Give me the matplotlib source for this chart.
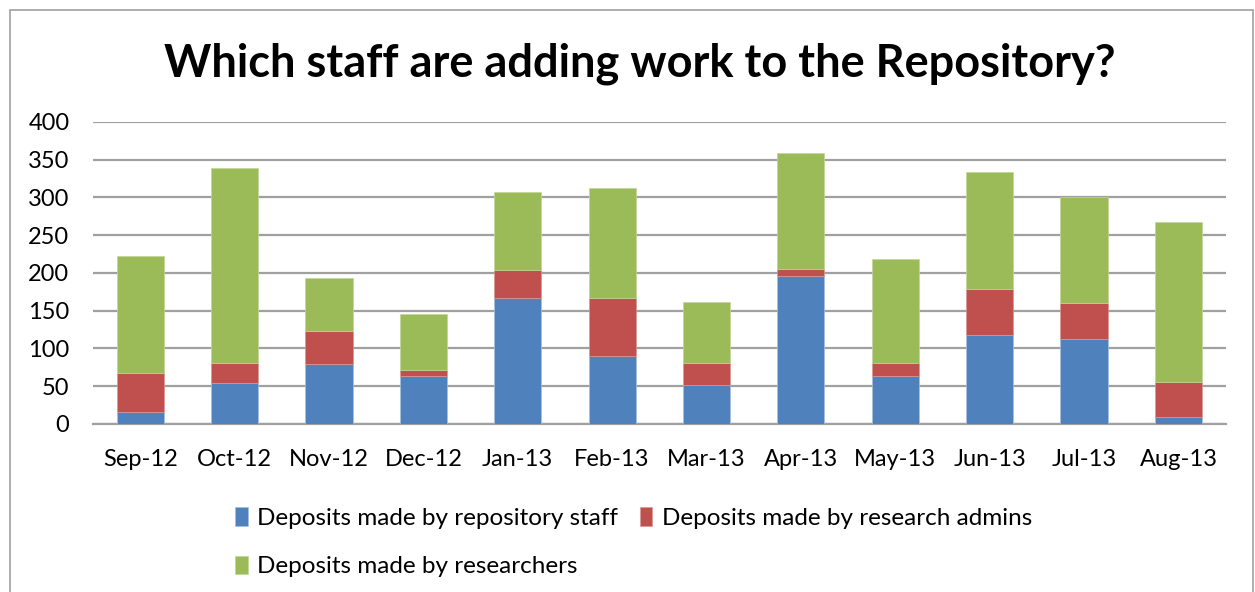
import matplotlib
matplotlib.use('Agg')
import matplotlib.pyplot as plt
from matplotlib.patches import Rectangle
import numpy as np

plt.rcParams['font.family'] = ['Lato', 'DejaVu Sans']

months = ['Sep-12', 'Oct-12', 'Nov-12', 'Dec-12', 'Jan-13', 'Feb-13',
          'Mar-13', 'Apr-13', 'May-13', 'Jun-13', 'Jul-13', 'Aug-13']
repo_staff = [16, 54, 79, 64, 167, 90, 52, 196, 63, 118, 113, 9]
research_admins = [52, 26, 44, 7, 37, 77, 29, 9, 18, 61, 47, 46]
researchers = [154, 259, 70, 74, 103, 146, 81, 154, 137, 155, 141, 212]
series_names = ['Deposits made by repository staff',
                'Deposits made by research admins',
                'Deposits made by researchers']
C_BLUE, C_RED, C_GREEN = '#4F81BD', '#C0504D', '#9BBB59'

fig = plt.figure(figsize=(12.55, 5.92), dpi=100)
ax = fig.add_axes([0.0741, 0.284, 0.9025, 0.510])

x = np.arange(len(months))
w = 0.5
b1 = ax.bar(x, repo_staff, w, color=C_BLUE, edgecolor='#A7C0DE', lw=0.5, zorder=3)
bottom2 = np.array(repo_staff)
b2 = ax.bar(x, research_admins, w, bottom=bottom2, color=C_RED, edgecolor='#D99694', lw=0.5, zorder=3)
bottom3 = bottom2 + np.array(research_admins)
b3 = ax.bar(x, researchers, w, bottom=bottom3, color=C_GREEN, edgecolor='#C3D69B', lw=0.5, zorder=3)

ax.set_xlim(-0.5, len(months) - 0.5)
ax.set_ylim(0, 400)
ax.set_yticks(range(0, 401, 50))
ax.yaxis.grid(True, color='#A0A0A0', lw=1.6, zorder=0)
for s in ['top', 'right', 'left']:
    ax.spines[s].set_visible(False)
ax.spines['bottom'].set_color('#A0A0A0')
ax.spines['bottom'].set_linewidth(1.6)
ax.tick_params(axis='both', length=0, labelsize=17, colors='black')
ax.tick_params(axis='y', pad=17)
ax.tick_params(axis='x', pad=18)
ax.set_xticks(x)
ax.set_xticklabels(months)

fig.text(0.51, 0.893, 'Which staff are adding work to the Repository?',
         ha='center', va='center', fontsize=32.5, fontweight='bold')

# legend laid out row-wise like Excel: reorder so columns fill correctly
fig.legend([b1, b3, b2], [series_names[0], series_names[2], series_names[1]],
           ncol=2, loc='upper left', bbox_to_anchor=(0.174, 0.172),
           frameon=False, fontsize=17.5, handlelength=0.5, handleheight=0.8,
           handletextpad=0.4, columnspacing=0.9, labelspacing=1.1,
           borderpad=0.2)

fig.add_artist(Rectangle((10 / 1255, -0.05), 1243 / 1255, 1.05 - 10 / 592,
                         transform=fig.transFigure, fill=False,
                         edgecolor='#A0A0A0', lw=1.2))

fig.savefig('out.png', dpi=100)
